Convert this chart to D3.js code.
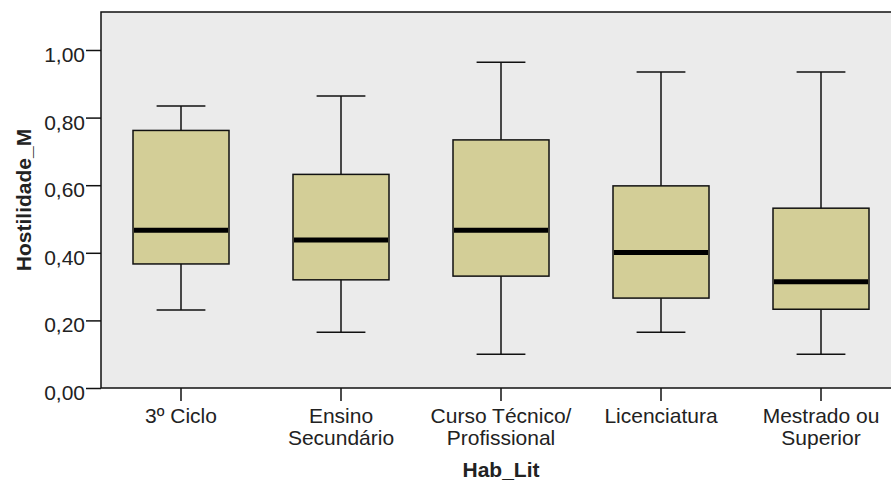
<!DOCTYPE html>
<html>
<head>
<meta charset="utf-8">
<script src="https://cdn.jsdelivr.net/npm/d3@7"></script>
<style>
  body { margin: 0; background: #fff; }
  svg text { font-family: "Liberation Sans", Arial, sans-serif; fill: #222; }
</style>
</head>
<body>
<svg id="chart" width="891" height="484"></svg>
<script>
// Hostilidade_M by Hab_Lit (boxplot values)
const categories = ["3º Ciclo", "Ensino Secundário", "Curso Técnico/ Profissional", "Licenciatura", "Mestrado ou Superior"];
const categoryLines = [["3º Ciclo"], ["Ensino", "Secundário"], ["Curso Técnico/", "Profissional"], ["Licenciatura"], ["Mestrado ou", "Superior"]];
const whiskerLow  = [0.231, 0.165, 0.100, 0.165, 0.100];
const q1          = [0.367, 0.320, 0.331, 0.266, 0.233];
const median      = [0.467, 0.438, 0.467, 0.401, 0.314];
const q3          = [0.762, 0.632, 0.734, 0.598, 0.532];
const whiskerHigh = [0.834, 0.864, 0.964, 0.935, 0.935];
const yTicks = [0, 0.2, 0.4, 0.6, 0.8, 1.0];

const svg = d3.select("#chart");
const plot = { left: 101, right: 901, top: 12, bottom: 388 };

const x = d3.scaleBand().domain(categories).range([plot.left, plot.right]);
const y = d3.scaleLinear().domain([0, 1.1124]).range([plot.bottom, plot.top]);

// plot background + frame
svg.append("rect")
    .attr("x", plot.left).attr("y", plot.top)
    .attr("width", plot.right - plot.left).attr("height", plot.bottom - plot.top)
    .attr("fill", "#ebebeb")
    .attr("stroke", "#111").attr("stroke-width", 1.5);

const fmt = (d) => d3.format(".2f")(d).replace(".", ",");

// y axis
const gy = svg.append("g")
    .attr("transform", "translate(" + plot.left + ",0)")
    .call(d3.axisLeft(y).tickValues(yTicks).tickFormat(fmt).tickSize(15).tickPadding(1));
gy.select(".domain").remove();
gy.selectAll("line").attr("stroke", "#111").attr("stroke-width", 1.5);
gy.selectAll("text")
    .attr("dy", "0.55em")
    .style("font-size", "21px")
    .attr("fill", "#222");

// x axis
const gx = svg.append("g")
    .attr("transform", "translate(0," + plot.bottom + ")")
    .call(d3.axisBottom(x).tickSize(13));
gx.select(".domain").remove();
gx.selectAll("line").attr("stroke", "#111").attr("stroke-width", 1.5);
gx.selectAll("text").each(function(d, i) {
    const t = d3.select(this).text(null)
        .attr("y", 35).attr("dy", 0)
        .style("font-size", "21px")
        .attr("fill", "#222");
    categoryLines[i].forEach((line, j) => {
        t.append("tspan").attr("x", 0).attr("dy", j == 0 ? 0 : 22).text(line);
    });
});

// axis titles
svg.append("text")
    .attr("transform", "translate(31," + ((plot.top + plot.bottom) / 2) + ") rotate(-90)")
    .attr("text-anchor", "middle")
    .style("font-size", "21px").style("font-weight", "bold")
    .text("Hostilidade_M");

svg.append("text")
    .attr("x", x(categories[2]) + x.bandwidth() / 2)
    .attr("y", 477)
    .attr("text-anchor", "middle")
    .style("font-size", "21px").style("font-weight", "bold")
    .text("Hab_Lit");

// boxes
const boxW = x.bandwidth() * 0.6;
const capW = x.bandwidth() * 0.305;
const idx = d3.range(categories.length);
const cx = (i) => x(categories[i]) + x.bandwidth() / 2;

const g = svg.append("g").attr("stroke", "#111").attr("stroke-width", 1.5);

g.selectAll("line.whisker")
    .data(idx)
    .join("line")
    .attr("class", "whisker")
    .attr("x1", cx).attr("x2", cx)
    .attr("y1", (i) => y(whiskerLow[i]))
    .attr("y2", (i) => y(whiskerHigh[i]));

g.selectAll("line.caplow")
    .data(idx)
    .join("line")
    .attr("class", "caplow")
    .attr("x1", (i) => cx(i) - capW / 2).attr("x2", (i) => cx(i) + capW / 2)
    .attr("y1", (i) => y(whiskerLow[i])).attr("y2", (i) => y(whiskerLow[i]));

g.selectAll("line.caphigh")
    .data(idx)
    .join("line")
    .attr("class", "caphigh")
    .attr("x1", (i) => cx(i) - capW / 2).attr("x2", (i) => cx(i) + capW / 2)
    .attr("y1", (i) => y(whiskerHigh[i])).attr("y2", (i) => y(whiskerHigh[i]));

g.selectAll("rect.box")
    .data(idx)
    .join("rect")
    .attr("class", "box")
    .attr("x", (i) => cx(i) - boxW / 2)
    .attr("width", boxW)
    .attr("y", (i) => y(q3[i]))
    .attr("height", (i) => y(q1[i]) - y(q3[i]))
    .attr("fill", "#d3ce97");

g.selectAll("line.median")
    .data(idx)
    .join("line")
    .attr("class", "median")
    .attr("x1", (i) => cx(i) - boxW / 2 + 1).attr("x2", (i) => cx(i) + boxW / 2 - 1)
    .attr("y1", (i) => y(median[i])).attr("y2", (i) => y(median[i]))
    .attr("stroke", "#000")
    .attr("stroke-width", 5);
</script>
</body>
</html>
